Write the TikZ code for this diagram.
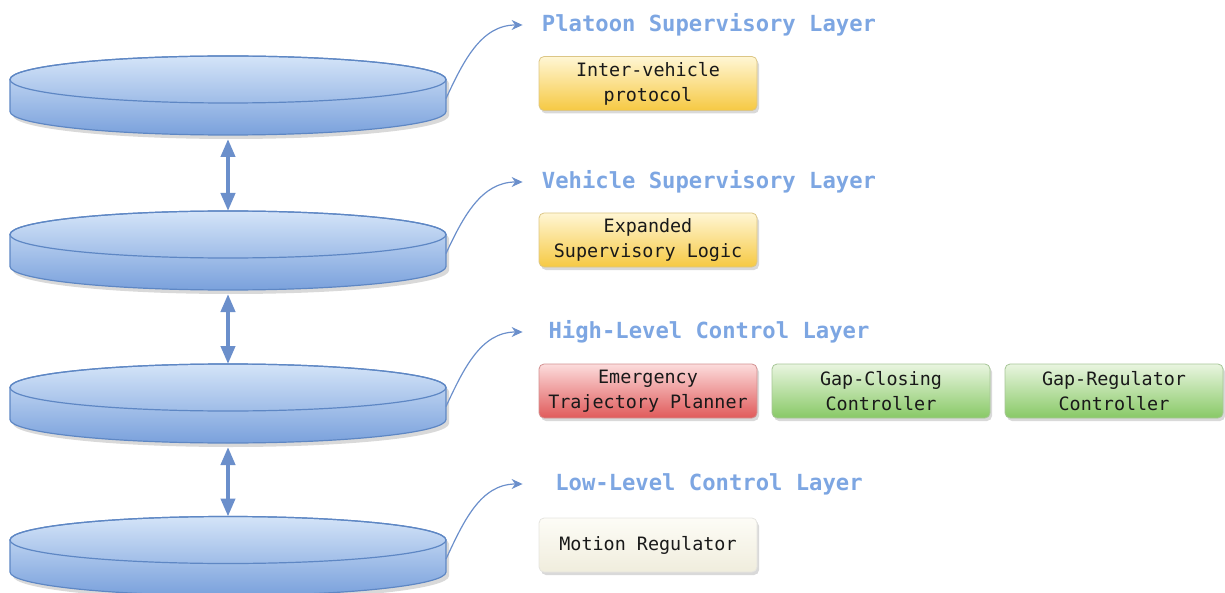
\documentclass[tikz,border=0pt]{standalone}
\usepackage{fontspec}
\setmonofont{DejaVu Sans Mono}
\usepackage{xcolor}
\usepackage{tikz}
\usetikzlibrary{shadows,arrows.meta}

\definecolor{diskline}{HTML}{5E87C4}
\definecolor{disktop}{HTML}{D4E4F8}
\definecolor{diskbot}{HTML}{7AA1DC}
\definecolor{linkblue}{HTML}{6B8FCB}
\definecolor{laytext}{HTML}{7DA6E2}
\definecolor{yeltop}{HTML}{FFF6D4}
\definecolor{yelbot}{HTML}{F6C943}
\definecolor{redtop}{HTML}{FCDCDC}
\definecolor{redbot}{HTML}{E05A5A}
\definecolor{grntop}{HTML}{E9F5E0}
\definecolor{grnbot}{HTML}{88C966}
\definecolor{crmtop}{HTML}{FDFCF6}
\definecolor{crmbot}{HTML}{F0EDDD}

\begin{document}
\begin{tikzpicture}[x=0.5pt,y=0.5pt,
	layer/.style={font=\ttfamily\bfseries\fontsize{11.1}{13}\selectfont,text=laytext,
		minimum width=186pt,inner sep=0pt},
	unitbox/.style={rounded corners=2.5pt,minimum width=109pt,minimum height=27pt,
		inner sep=0pt,align=center,text=black!90,
		font=\ttfamily\fontsize{9.2}{12.5}\selectfont,line width=0.4pt,
		drop shadow={shadow xshift=1pt,shadow yshift=-1.5pt,opacity=0.3}},
	yelbox/.style={unitbox,top color=yeltop,bottom color=yelbot,draw=yelbot!80!black!60},
	redbox/.style={unitbox,top color=redtop,bottom color=redbot,draw=redbot!80!black!60},
	grnbox/.style={unitbox,top color=grntop,bottom color=grnbot,draw=grnbot!80!black!60},
	crmbox/.style={unitbox,top color=crmtop,bottom color=crmbot,draw=crmbot!80!black!40},
	updown/.style={linkblue,line width=2pt,shorten <=2pt,
		{Triangle[width=7pt,length=9pt]}-{Triangle[width=7pt,length=9pt]}},
	rise/.style={linkblue,line width=0.6pt,-{Stealth[length=5.5pt,width=5pt]}}]
		\useasboundingbox (0,0) rectangle (1225,-593);
		% the four layer disks
		\foreach \i/\c in {1/79.5,2/234.5,3/387.5,4/540}{
			\fill[black,opacity=0.15,xshift=1.5pt,yshift=-2pt] (10,-\c) -- (10,-\c-32)
				arc[start angle=180,end angle=360,x radius=218,y radius=23.5] -- (446,-\c)
				arc[start angle=0,end angle=180,x radius=218,y radius=23.5] -- cycle;
			\shade[top color=disktop,bottom color=diskbot,draw=diskline,line width=0.6pt]
				(10,-\c) -- (10,-\c-32)
				arc[start angle=180,end angle=360,x radius=218,y radius=23.5] -- (446,-\c)
				arc[start angle=0,end angle=180,x radius=218,y radius=23.5] -- cycle;
			\draw[diskline,line width=0.6pt] (228,-\c) ellipse[x radius=218,y radius=23.5];
			\coordinate (top\i) at (228,-\c+23.5);
			\coordinate (bot\i) at (228,-\c-55.5);
			\coordinate (side\i) at (446,-\c-19);
		}
		\draw[updown] (bot1) -- (top2);
		\draw[updown] (bot2) -- (top3);
		\draw[updown] (bot3) -- (top4);

		% layer names
		\node[layer] (lay1) at (709,-25) {Platoon Supervisory Layer};
		\node[layer] (lay2) at (709,-182) {Vehicle Supervisory Layer};
		\node[layer] (lay3) at (709,-332) {High-Level Control Layer};
		\node[layer] (lay4) at (709,-484) {Low-Level Control Layer};
		\draw[rise] (side1) to[out=65,in=180] (lay1.west);
		\draw[rise] (side2) to[out=65,in=180] (lay2.west);
		\draw[rise] (side3) to[out=65,in=180] (lay3.west);
		\draw[rise] (side4) to[out=65,in=180] (lay4.west);

		% functional blocks
		\node[yelbox] (ivp) at (648,-83.5) {Inter-vehicle\\protocol};
		\node[yelbox] (esl) at (648,-240) {Expanded\\Supervisory Logic};
		\node[redbox] (etp) at (648,-391) {Emergency\\Trajectory Planner};
		\node[grnbox] (gcc) at (881,-391) {Gap-Closing\\Controller};
		\node[grnbox] (grc) at (1114,-391) {Gap-Regulator\\Controller};
		\node[crmbox] (mreg) at (648,-545) {Motion Regulator};
	\end{tikzpicture}
\end{document}
